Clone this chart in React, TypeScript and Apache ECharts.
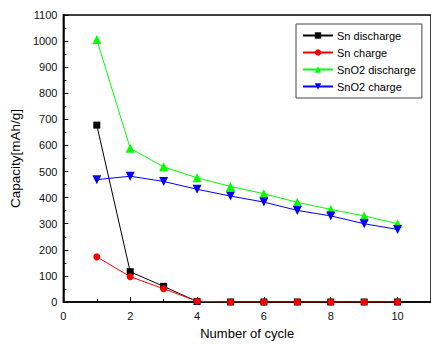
import React, { useEffect, useRef } from "react";
import * as echarts from "echarts";

const cycles = [1, 2, 3, 4, 5, 6, 7, 8, 9, 10];
const snDischarge = [678, 116, 60, 2, 0, 0, 0, 0, 0, 0];
const snCharge = [173, 97, 51, 3, 0, 0, 0, 0, 0, 0];
const sno2Discharge = [1006, 589, 518, 476, 443, 415, 382, 355, 330, 300];
const sno2Charge = [469, 482, 462, 432, 406, 383, 351, 330, 300, 278];

const pair = (ys: number[]) => cycles.map((c, i) => [c, ys[i]]);

export default function App() {
  const ref = useRef<HTMLDivElement>(null);
  useEffect(() => {
    const chart = echarts.init(ref.current!, null, { renderer: "svg" });
    const font = "Liberation Sans, Arial, sans-serif";
    const mk = (name: string, data: number[], color: string, symbol: string, size: number, rot = 0) => ({
      name,
      type: "line",
      data: pair(data),
      symbol,
      symbolSize: size,
      symbolRotate: rot,
      showAllSymbol: true,
      lineStyle: { color, width: 1 },
      itemStyle: { color },
    });
    chart.setOption({
      animation: false,
      backgroundColor: "#fff",
      grid: { left: 57, top: 15, right: -2, bottom: 42, show: true, borderColor: "#000", borderWidth: 1.5, backgroundColor: "transparent" },
      legend: {
        orient: "vertical",
        left: 296,
        top: 24,
        width: 121,
        padding: [6, 6, 6, 6],
        itemGap: 6,
        itemWidth: 30,
        itemHeight: 8,
        borderColor: "#444",
        borderWidth: 1,
        textStyle: { fontFamily: font, fontSize: 11, color: "#000", padding: [0, 0, 0, -1] },
        data: ["Sn discharge", "Sn charge", "SnO2 discharge", "SnO2 charge"],
      },
      xAxis: {
        type: "value",
        min: 0,
        max: 11,
        interval: 2,
        name: "Number of cycle",
        nameLocation: "middle",
        nameGap: 25,
        nameTextStyle: { fontFamily: font, fontSize: 13, color: "#000" },
        axisLine: { onZero: false, lineStyle: { color: "#000", width: 1.5 } },
        axisTick: { inside: true, length: 5, lineStyle: { color: "#000" } },
        minorTick: { show: true, splitNumber: 2, length: 3, lineStyle: { color: "#000" } },
        axisLabel: { fontFamily: font, fontSize: 11, color: "#111", margin: 8, showMaxLabel: false },
        splitLine: { show: false },
      },
      yAxis: {
        type: "value",
        min: 0,
        max: 1100,
        interval: 100,
        name: "Capacity[mAh/g]",
        nameLocation: "middle",
        nameGap: 36,
        nameTextStyle: { fontFamily: font, fontSize: 13.5, color: "#000" },
        axisLine: { onZero: false, lineStyle: { color: "#000", width: 1.5 } },
        axisTick: { inside: true, length: 5, lineStyle: { color: "#000" } },
        minorTick: { show: true, splitNumber: 2, length: 3, lineStyle: { color: "#000" } },
        axisLabel: { fontFamily: font, fontSize: 11, color: "#111", margin: 6, formatter: (v: number) => String(v) },
        splitLine: { show: false },
      },
      series: [
        mk("Sn discharge", snDischarge, "#000000", "rect", 7),
        mk("Sn charge", snCharge, "#ff0000", "circle", 7),
        mk("SnO2 discharge", sno2Discharge, "#00ff00", "triangle", 9),
        mk("SnO2 charge", sno2Charge, "#0000ff", "triangle", 9, 180),
      ],
    });
    return () => chart.dispose();
  }, []);
  return <div ref={ref} style={{ position: "fixed", left: 0, top: 0, width: 431, height: 345 }} />;
}
